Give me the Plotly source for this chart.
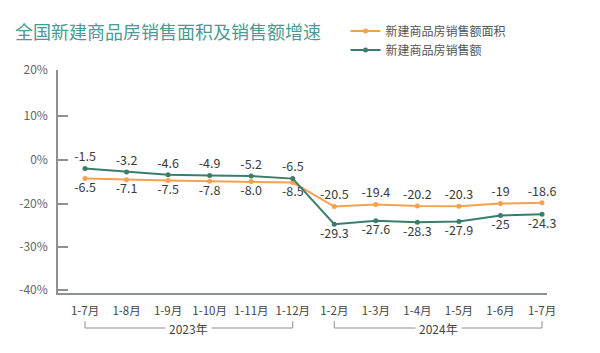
import plotly.graph_objects as go

# ---- data ----
periods = ["1-7月", "1-8月", "1-9月", "1-10月", "1-11月", "1-12月",
           "1-2月", "1-3月", "1-4月", "1-5月", "1-6月", "1-7月"]
year_groups = ["2023年", "2024年"]
group_size = 6
area_growth = [-6.5, -7.1, -7.5, -7.8, -8.0, -8.5, -20.5, -19.4, -20.2, -20.3, -19, -18.6]
sales_growth = [-1.5, -3.2, -4.6, -4.9, -5.2, -6.5, -29.3, -27.6, -28.3, -27.9, -25, -24.3]
area_name = "新建商品房销售额面积"
sales_name = "新建商品房销售额"
title_text = "全国新建商品房销售面积及销售额增速"
ytick_text = ["20%", "10%", "0%", "-20%", "-30%", "-40%"]
ytick_vals = [47.8, 24.8, 2.8, -19.2, -40.7, -62.2]

ORANGE = "#f7a04e"
TEAL = "#3b7d6d"
AXIS = "#8c9196"
FONT = "Noto Sans CJK SC"

x = list(range(len(periods)))

area_pos = ["bottom center"] * group_size + ["top center"] * group_size
sales_pos = ["top center"] * group_size + ["bottom center"] * group_size

fig = go.Figure()
fig.add_trace(go.Scatter(
    x=x, y=area_growth, name=area_name, mode="lines+markers+text",
    line=dict(color=ORANGE, width=2), marker=dict(color=ORANGE, size=5),
    text=[str(v) for v in area_growth], textposition=area_pos,
    textfont=dict(family=FONT, size=12.5, color="#3a3a3a"),
    cliponaxis=False,
))
fig.add_trace(go.Scatter(
    x=x, y=sales_growth, name=sales_name, mode="lines+markers+text",
    line=dict(color=TEAL, width=2), marker=dict(color=TEAL, size=5),
    text=[str(v) for v in sales_growth], textposition=sales_pos,
    textfont=dict(family=FONT, size=12.5, color="#3a3a3a"),
    cliponaxis=False,
))

# group brackets
for gi, g in enumerate(year_groups):
    x0 = gi * group_size
    x1 = x0 + group_size - 1
    fig.add_shape(type="path", xref="x", yref="paper",
                  path=f"M {x0},-0.126 L {x0},-0.157 L {x1},-0.157 L {x1},-0.126",
                  line=dict(color=AXIS, width=1))
    fig.add_annotation(x=(x0 + x1) / 2, y=-0.157, xref="x", yref="paper",
                       text=g, showarrow=False, bgcolor="white", borderpad=3,
                       font=dict(family=FONT, size=12, color="#444"),
                       xanchor="center", yanchor="middle")

fig.update_layout(
    width=600, height=353,
    margin=dict(l=58, r=53, t=70, b=60),
    paper_bgcolor="white", plot_bgcolor="white",
    title=dict(text=title_text, x=0.025, xanchor="left", y=0.906, yanchor="middle",
               font=dict(family=FONT, size=18, color="#4a9a94")),
    legend=dict(x=0.588, y=1.24, xanchor="left", yanchor="top",
                font=dict(family=FONT, size=12, color="#555"),
                bgcolor="rgba(0,0,0,0)", tracegroupgap=0),
    showlegend=True,
    font=dict(family=FONT),
)
fig.update_xaxes(
    range=[-0.65, 11.12], tickvals=x, ticktext=periods,
    showline=True, linecolor=AXIS, linewidth=1.5, showgrid=False, zeroline=False,
    ticks="", tickfont=dict(family=FONT, size=11.5, color="#444"),
    ticklabelstandoff=6,
)
fig.update_yaxes(
    range=[-63.7, 47.8], tickvals=ytick_vals, ticktext=ytick_text,
    showline=True, linecolor=AXIS, linewidth=1.5, showgrid=False, zeroline=False,
    ticks="inside", ticklen=10, tickcolor=AXIS, tickwidth=1.5,
    tickfont=dict(family=FONT, size=12, color="#666"),
    ticklabelstandoff=6,
)

fig.write_html("out.html")
